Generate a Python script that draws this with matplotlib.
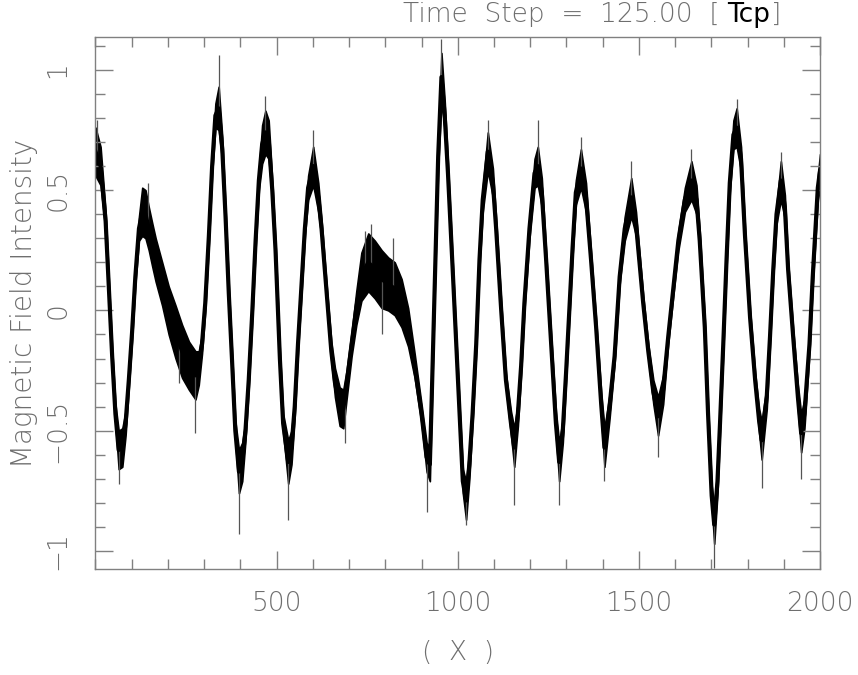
import matplotlib
matplotlib.use("Agg")
import matplotlib.pyplot as plt
from matplotlib.ticker import MultipleLocator
import numpy as np

# centre of the noisy band
pos_x = [0, 14, 28, 37, 46, 55, 64, 74, 83, 92, 101, 110, 120, 129, 138, 147,
         157, 166, 184, 202, 221, 239, 258, 276, 285, 294, 303, 313, 322, 331,
         340, 350, 359, 368, 377, 386, 396, 405, 414, 423, 433, 442, 451, 460,
         469, 478, 488, 497,
         509, 518, 532, 541, 550, 559, 569, 578, 587, 601, 615, 624, 633, 642,
         651, 661, 674, 684, 693, 707, 720, 734, 753, 771, 790, 808, 826, 845,
         863, 881, 900, 914, 923, 927, 937, 946, 955, 964, 973, 987,
         1005, 1014, 1023, 1032, 1041, 1051, 1060, 1069, 1083, 1097, 1106,
         1120, 1133, 1147, 1156, 1166, 1175, 1184, 1198, 1212, 1221, 1232,
         1244, 1258, 1271, 1280, 1290, 1299, 1308, 1317, 1326, 1340, 1354,
         1368, 1382, 1396, 1405, 1419, 1433, 1447, 1461, 1479, 1492,
         1512, 1526, 1540, 1553, 1567, 1581, 1595, 1609, 1627, 1645, 1659,
         1668, 1682, 1691, 1701, 1708, 1717, 1724, 1733, 1742, 1751, 1761,
         1770, 1782, 1793, 1807, 1821, 1832, 1839, 1853, 1862, 1871, 1880,
         1892, 1903, 1912, 1926, 1939, 1948, 1957, 1971, 1980, 1994, 2000]

field = [0.66, 0.60, 0.37, 0.09, -0.19, -0.43, -0.58, -0.57, -0.47, -0.29,
         -0.09, 0.14, 0.34, 0.41, 0.40, 0.34, 0.27, 0.21, 0.11, 0.00, -0.09,
         -0.17, -0.23, -0.27, -0.24, -0.14, 0.03, 0.31, 0.60, 0.81, 0.84, 0.67,
         0.39, 0.07, -0.21, -0.50, -0.67, -0.63, -0.50, -0.29, 0.00, 0.29, 0.54,
         0.69, 0.74, 0.71, 0.50, 0.25,
         -0.20, -0.47, -0.63, -0.57, -0.40, -0.14, 0.11, 0.34, 0.51, 0.60, 0.47,
         0.34, 0.17, 0.00, -0.17, -0.30, -0.40, -0.41, -0.31, -0.14, 0.01, 0.14,
         0.20, 0.17, 0.13, 0.11, 0.09, 0.03, -0.07, -0.23, -0.43, -0.61, -0.64,
         -0.43, 0.14, 0.64, 0.97, 0.81, 0.57, 0.14,
         -0.43, -0.71, -0.79, -0.64, -0.43, -0.14, 0.21, 0.46, 0.66, 0.53, 0.34,
         0.00, -0.29, -0.47, -0.57, -0.43, -0.23, 0.03, 0.34, 0.57, 0.60, 0.49,
         0.21, -0.14, -0.47, -0.63, -0.50, -0.26, 0.00, 0.26, 0.49, 0.59, 0.47,
         0.21, -0.07, -0.39, -0.57, -0.40, -0.19, 0.14, 0.34, 0.47, 0.36,
         0.03, -0.17, -0.34, -0.44, -0.33, -0.11, 0.09, 0.29, 0.46, 0.54, 0.46,
         0.29, -0.07, -0.43, -0.77, -0.89, -0.71, -0.47, -0.14, 0.21, 0.53, 0.73,
         0.76, 0.63, 0.31, -0.03, -0.29, -0.46, -0.54, -0.36, -0.11, 0.17, 0.40,
         0.54, 0.43, 0.17, -0.11, -0.36, -0.51, -0.43, -0.14, 0.14, 0.51, 0.58]

# half height of the dense black band
band = [0.10, 0.08, 0.04, 0.03, 0.03, 0.04, 0.08, 0.08, 0.05, 0.03,
        0.03, 0.03, 0.05, 0.10, 0.10, 0.09, 0.09, 0.09, 0.09, 0.10, 0.11,
        0.11, 0.10, 0.10, 0.07, 0.04, 0.03, 0.03, 0.03, 0.05, 0.09, 0.05,
        0.03, 0.03, 0.03, 0.04, 0.09, 0.08, 0.04, 0.03, 0.03, 0.03, 0.04,
        0.08, 0.09, 0.08, 0.04, 0.03,
        0.03, 0.04, 0.09, 0.07, 0.04, 0.03, 0.03, 0.03, 0.05, 0.08, 0.06,
        0.04, 0.03, 0.03, 0.04, 0.06, 0.08, 0.08, 0.06, 0.05, 0.07, 0.10,
        0.12, 0.12, 0.12, 0.11, 0.11, 0.10, 0.08, 0.05, 0.04, 0.06, 0.07,
        0.04, 0.03, 0.04, 0.10, 0.06, 0.04, 0.03,
        0.03, 0.05, 0.08, 0.06, 0.03, 0.03, 0.03, 0.05, 0.08, 0.06, 0.04,
        0.03, 0.03, 0.05, 0.08, 0.05, 0.03, 0.03, 0.04, 0.06, 0.08, 0.06,
        0.03, 0.03, 0.05, 0.08, 0.05, 0.03, 0.03, 0.03, 0.05, 0.08, 0.06,
        0.03, 0.03, 0.05, 0.08, 0.05, 0.03, 0.03, 0.05, 0.08, 0.05,
        0.03, 0.03, 0.05, 0.08, 0.06, 0.03, 0.03, 0.04, 0.05, 0.08, 0.06,
        0.04, 0.03, 0.03, 0.04, 0.08, 0.05, 0.03, 0.03, 0.03, 0.04, 0.06,
        0.08, 0.05, 0.03, 0.03, 0.03, 0.05, 0.08, 0.05, 0.03, 0.03, 0.04,
        0.08, 0.05, 0.03, 0.03, 0.05, 0.08, 0.06, 0.03, 0.03, 0.05, 0.07]

# thin grey spikes sticking out of the band
spike_x = [3, 64, 145, 230, 276, 340, 396, 469, 532, 601, 690, 745, 760, 790,
           820, 914, 955, 1023, 1083, 1156, 1221, 1280, 1340, 1405, 1479,
           1553, 1645, 1708, 1770, 1839, 1892, 1948]
spike_y = [0.79, -0.72, 0.53, -0.30, -0.51, 1.06, -0.93, 0.89, -0.87, 0.75,
           -0.55, 0.33, 0.36, -0.10, 0.30, -0.84, 1.13, -0.89, 0.79, -0.81,
           0.79, -0.81, 0.72, -0.71, 0.62, -0.61, 0.67, -1.07, 0.88, -0.74,
           0.66, -0.70]

x_ticks = [500, 1000, 1500, 2000]
y_ticks = [-1, -0.5, 0, 0.5, 1]
y_tick_labels = ["\u22121", "\u22120.5", "0", "0.5", "1"]

grey = "#808080"
text_grey = "#6e6e6e"
plt.rcParams["font.family"] = ["DejaVu Sans"]
plt.rcParams["font.weight"] = "light"
plt.rcParams["axes.labelweight"] = "light"

fig = plt.figure(figsize=(8.58, 6.75), dpi=100)
ax = fig.add_axes([0.1113, 0.157, 0.8444, 0.788])

x = np.array(pos_x)
y = np.array(field)
h = np.array(band)

ax.vlines(spike_x, np.interp(spike_x, x, y), spike_y, color="#555555", lw=0.9)
ax.fill_between(x, y - h, y + h, color="black", lw=1.2, edgecolor="black")
ax.plot(x, y, color="black", lw=3.0)

ax.set_xlim(0, 2000)
ax.set_ylim(-1.075, 1.136)
ax.set_xticks(x_ticks)
ax.set_yticks(y_ticks)
ax.set_yticklabels(y_tick_labels)
ax.xaxis.set_minor_locator(MultipleLocator(100))
ax.yaxis.set_minor_locator(MultipleLocator(0.1))

ax.tick_params(which="both", direction="in", top=True, right=True,
               color=grey, width=1.0, labelcolor=text_grey, labelsize=19)
ax.tick_params(which="major", length=13)
ax.tick_params(which="minor", length=7)
ax.tick_params(axis="x", pad=16)
ax.tick_params(axis="y", pad=18)
for lab in ax.get_yticklabels():
    lab.set_rotation(90)
    lab.set_va("center")
for sp in ax.spines.values():
    sp.set_color(grey)
    sp.set_linewidth(1.0)

ax.set_ylabel("Magnetic Field Intensity", color=text_grey, fontsize=20,
              fontweight="light", va="center")
ax.yaxis.set_label_coords(-0.099, 0.5)
ax.set_xlabel("(  X  )", color=text_grey, fontsize=19, fontweight="light",
              va="center")
ax.xaxis.set_label_coords(0.5, -0.156)

t1 = fig.text(0.47, 0.978, "Time  Step  =  125.00  [", color=text_grey,
              fontsize=19, va="center", ha="left")
t2 = ax.annotate("Tcp", xy=(1, 0.5), xycoords=t1, xytext=(5, 0),
                 textcoords="offset points", color="black", fontsize=19,
                 fontweight="normal", va="center", ha="left")
ax.annotate("]", xy=(1, 0.5), xycoords=t2, xytext=(1, 0),
            textcoords="offset points", color=text_grey, fontsize=19,
            va="center", ha="left")

fig.savefig("out.png", dpi=100)
